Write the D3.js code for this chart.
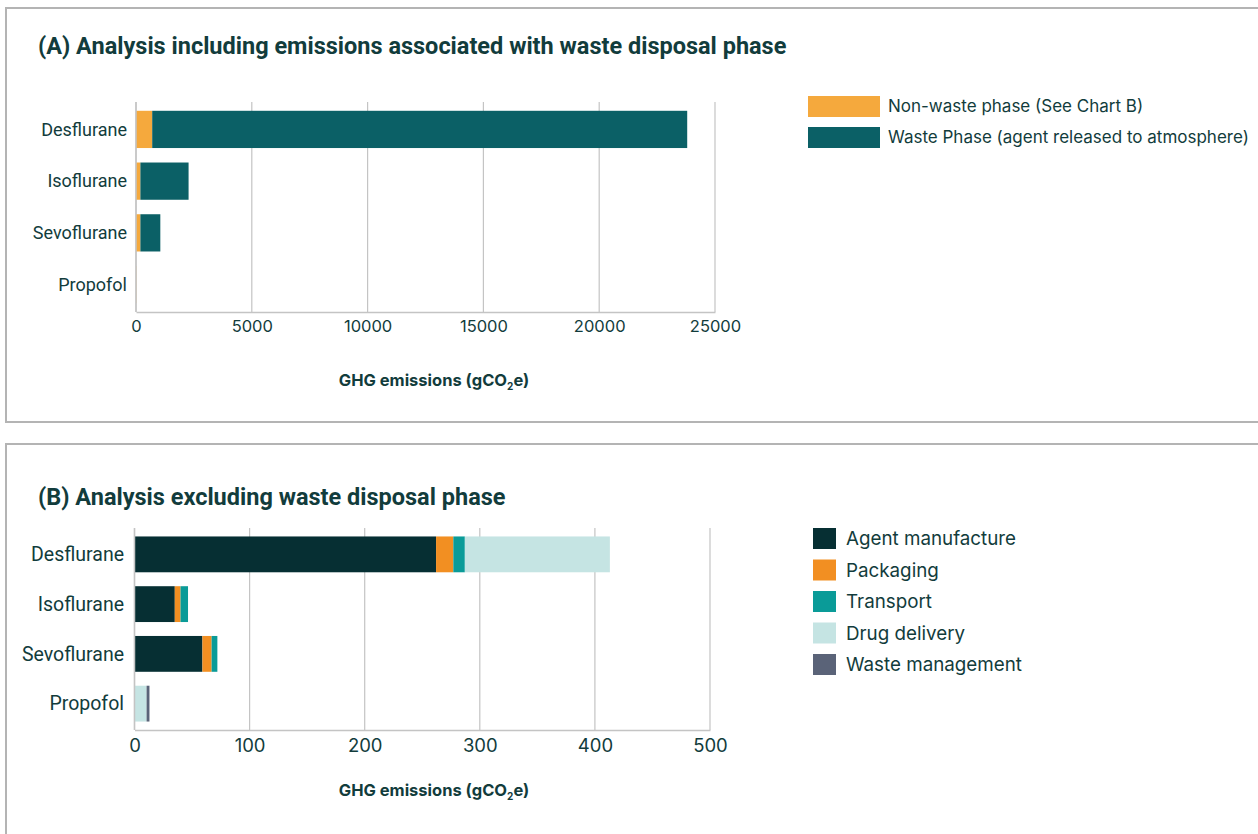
<!DOCTYPE html>
<html>
<head>
<meta charset="utf-8">
<script src="https://cdn.jsdelivr.net/npm/d3@7"></script>
<style>
  html, body { margin: 0; padding: 0; background: #ffffff; }
  svg { display: block; }
  text { font-family: "Inter", "Lato", sans-serif; fill: #123c3c; }
</style>
</head>
<body>
<svg id="chart" width="1258" height="834"></svg>
<script>
// ---------- data ----------
const drugs = ["Desflurane", "Isoflurane", "Sevoflurane", "Propofol"];

// Chart A
const seriesA = ["Non-waste phase (See Chart B)", "Waste Phase (agent released to atmosphere)"];
const nonWastePhase = [700, 190, 190, 12];
const wastePhase = [23100, 2080, 860, 0];
const ticksA = [0, 5000, 10000, 15000, 20000, 25000];

// Chart B
const seriesB = ["Agent manufacture", "Packaging", "Transport", "Drug delivery", "Waste management"];
const agentManufacture = [262, 35, 59, 0];
const packaging = [15, 5, 8, 0];
const transport = [10, 6.5, 5, 0];
const drugDelivery = [126, 0, 0, 10.5];
const wasteManagement = [0, 0, 0, 2.5];
const ticksB = [0, 100, 200, 300, 400, 500];

const axisTitle = "GHG emissions (gCO";

// ---------- styling ----------
const colorsA = ["#f5a93d", "#0b6066"];
const colorsB = ["#062f33", "#f28f22", "#0a9b98", "#c5e4e3", "#5a6378"];
const textColor = "#123c3c";
const gridColor = "#c4c4c4";

const svg = d3.select("#chart");

// panel borders
svg.append("rect").attr("x", 6).attr("y", 8).attr("width", 1270).attr("height", 414)
  .attr("fill", "none").attr("stroke", "#b4b4b4").attr("stroke-width", 2);
svg.append("rect").attr("x", 6).attr("y", 444).attr("width", 1270).attr("height", 420)
  .attr("fill", "none").attr("stroke", "#b4b4b4").attr("stroke-width", 2);

function drawChart(cfg) {
  const g = svg.append("g");
  const x = d3.scaleLinear().domain(cfg.domain).range([cfg.x0, cfg.x1]);
  const y = d3.scaleBand().domain(drugs).range([cfg.y0, cfg.y1]).paddingInner(0.28).paddingOuter(0.17);

  // title
  g.append("text").attr("x", cfg.titleX).attr("y", cfg.titleY)
    .style("font-family", "Roboto, sans-serif")
    .style("font-weight", 700).style("font-size", "23.5px")
    .text(cfg.title);

  // gridlines
  g.append("g").selectAll("line").data(cfg.ticks).join("line")
    .attr("x1", d => x(d)).attr("x2", d => x(d))
    .attr("y1", cfg.y0).attr("y2", cfg.y1)
    .attr("stroke", gridColor).attr("stroke-width", 1.2);

  // stacked bars
  const rows = drugs.map((d, i) => {
    const o = { drug: d };
    cfg.keys.forEach((k, j) => o[k] = cfg.values[j][i]);
    return o;
  });
  const stack = d3.stack().keys(cfg.keys)(rows);
  g.append("g").selectAll("g").data(stack).join("g")
    .attr("fill", (d, i) => cfg.colors[i])
    .selectAll("rect").data(d => d).join("rect")
    .attr("x", d => x(d[0]))
    .attr("y", d => y(d.data.drug))
    .attr("width", d => Math.max(0, x(d[1]) - x(d[0])))
    .attr("height", y.bandwidth());

  // bottom axis
  const xAxis = d3.axisBottom(x).tickValues(cfg.ticks).tickSize(0).tickPadding(cfg.tickPad).tickFormat(d3.format("d"));
  const ax = g.append("g").attr("transform", `translate(0,${cfg.y1})`).call(xAxis);
  ax.select(".domain").attr("stroke", gridColor).attr("stroke-width", 1.5);
  ax.selectAll("text").style("font-family", "Inter, sans-serif")
    .style("font-size", cfg.tickFont).attr("fill", textColor);

  // left axis line
  g.append("line").attr("x1", x(0)).attr("x2", x(0)).attr("y1", cfg.y0).attr("y2", cfg.y1)
    .attr("stroke", gridColor).attr("stroke-width", 1.5);

  // category labels
  g.append("g").selectAll("text").data(drugs).join("text")
    .attr("x", cfg.labelX)
    .attr("y", d => y(d) + y.bandwidth() / 2)
    .attr("dy", "0.35em")
    .attr("text-anchor", "end")
    .style("font-family", "Roboto, sans-serif")
    .style("font-size", cfg.labelFont)
    .text(d => d);

  // axis title
  const t = g.append("text").attr("x", cfg.axisTitleX).attr("y", cfg.axisTitleY)
    .attr("text-anchor", "middle")
    .style("font-family", "Inter, sans-serif")
    .style("font-weight", 700).style("font-size", "16.5px");
  t.append("tspan").text(axisTitle);
  t.append("tspan").attr("dy", 4).style("font-size", "10px").text("2");
  t.append("tspan").attr("dy", -4).text("e)");

  // legend
  const lg = g.append("g").selectAll("g").data(cfg.keys).join("g")
    .attr("transform", (d, i) => `translate(${cfg.legX},${cfg.legY + i * cfg.legStep})`);
  lg.append("rect").attr("width", cfg.swW).attr("height", cfg.swH)
    .attr("fill", (d, i) => cfg.colors[i]);
  lg.append("text").attr("x", cfg.legTextX).attr("y", cfg.swH / 2).attr("dy", "0.35em")
    .style("font-family", "Inter, sans-serif")
    .style("font-size", cfg.legFont)
    .text(d => d);
}

drawChart({
  title: "(A) Analysis including emissions associated with waste disposal phase",
  titleX: 38, titleY: 54,
  domain: [0, 25000], x0: 136, x1: 715, y0: 102, y1: 312,
  ticks: ticksA, tickPad: 8, tickFont: "16.5px",
  keys: seriesA, values: [nonWastePhase, wastePhase], colors: colorsA,
  labelX: 127, labelFont: "18px",
  axisTitleX: 434, axisTitleY: 386,
  legX: 808, legY: 96, legStep: 31, swW: 72, swH: 21, legTextX: 80, legFont: "17px"
});

drawChart({
  title: "(B) Analysis excluding waste disposal phase",
  titleX: 38, titleY: 505,
  domain: [0, 500], x0: 134.5, x1: 710, y0: 528, y1: 730,
  ticks: ticksB, tickPad: 9, tickFont: "18.5px",
  keys: seriesB, values: [agentManufacture, packaging, transport, drugDelivery, wasteManagement], colors: colorsB,
  labelX: 124, labelFont: "19.5px",
  axisTitleX: 434, axisTitleY: 796,
  legX: 813, legY: 528, legStep: 31.5, swW: 23, swH: 21, legTextX: 33, legFont: "18.8px"
});
</script>
</body>
</html>
